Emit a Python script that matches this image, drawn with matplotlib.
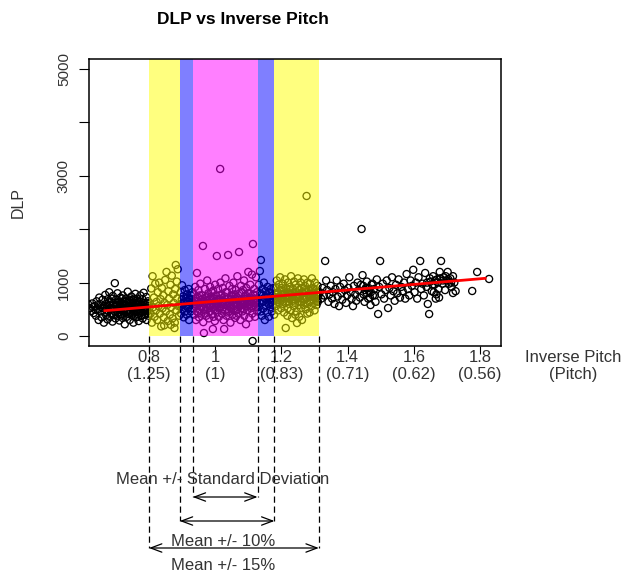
import matplotlib.pyplot as plt
from matplotlib import transforms
from matplotlib.lines import Line2D

plt.rcParams['font.family'] = ['Liberation Sans', 'DejaVu Sans']

# scanned points, grouped by the pitch band they fall in
low_pts = [(0.622,520),(0.626,470),(0.629,610),(0.633,430),(0.636,560),(0.640,380),(0.642,650),(0.645,500),(0.648,300),(0.650,720),
    (0.653,460),(0.655,590),(0.657,350),(0.660,680),(0.662,520),(0.664,250),(0.666,440),(0.668,770),(0.670,600),(0.671,390),
    (0.673,540),(0.675,310),(0.676,690),(0.678,470),(0.680,820),(0.681,580),(0.683,360),(0.685,640),(0.686,430),(0.688,520),
    (0.690,270),(0.691,750),(0.693,610),(0.694,400),(0.696,540),(0.697,990),(0.699,330),(0.700,680),(0.702,470),(0.703,590),
    (0.705,800),(0.706,380),(0.708,520),(0.709,640),(0.711,290),(0.712,450),(0.714,720),(0.715,560),(0.717,410),(0.718,610),
    (0.720,340),(0.721,760),(0.723,500),(0.724,650),(0.726,430),(0.727,220),(0.729,580),(0.730,700),(0.732,470),(0.733,360),
    (0.735,620),(0.736,830),(0.738,540),(0.739,410),(0.741,680),(0.742,300),(0.744,570),(0.745,460),(0.747,740),(0.748,390),
    (0.750,600),(0.751,510),(0.753,250),(0.754,670),(0.756,440),(0.757,560),(0.759,790),(0.760,350),(0.762,620),(0.763,480),
    (0.765,700),(0.766,410),(0.768,540),(0.769,280),(0.771,650),(0.772,500),(0.774,760),(0.775,380),(0.777,590),(0.778,450),
    (0.780,690),(0.781,330),(0.783,560),(0.784,810),(0.786,470),(0.787,620),(0.789,400),(0.790,540),(0.792,730),(0.793,300),
    (0.795,610),(0.796,460),(0.798,560),(0.799,380),(0.616,600),
    (0.664,560),(0.672,480),(0.679,630),(0.684,510),(0.692,570),(0.698,450),(0.704,620),(0.710,530),(0.716,480),(0.722,590),
    (0.728,510),(0.734,450),(0.740,560),(0.746,620),(0.752,420),(0.758,520),(0.764,580),(0.770,470),(0.776,530),(0.782,610),
    (0.788,500),(0.794,470),(0.687,700),(0.701,560),(0.713,600),(0.725,520),(0.737,480),(0.749,540),(0.761,600),(0.773,440),
    (0.785,530),(0.797,650),(0.658,530),(0.647,580),(0.639,490),(0.631,540),(0.719,700),(0.731,640),(0.743,430),(0.755,700),
    (0.767,360),(0.779,560),(0.791,490),(0.706,430),(0.718,380),(0.730,560),(0.742,660),(0.754,480),(0.766,640),(0.778,380)]

yellow_left_pts = [(0.802,620),(0.805,420),(0.807,890),(0.809,250),(0.811,1120),(0.813,540),(0.815,720),(0.817,360),(0.819,980),(0.821,480),
    (0.823,640),(0.825,300),(0.827,820),(0.829,560),(0.831,1000),(0.833,420),(0.835,690),(0.837,180),(0.839,900),(0.841,520),
    (0.843,760),(0.845,350),(0.847,620),(0.849,1050),(0.851,460),(0.853,1200),(0.855,580),(0.857,280),(0.859,840),(0.861,700),
    (0.863,400),(0.865,960),(0.867,540),(0.869,1130),(0.871,330),(0.873,780),(0.875,620),(0.877,150),(0.879,880),(0.881,1330),
    (0.883,480),(0.885,700),(0.887,1250),(0.889,560),(0.891,380),(0.884,1020),(0.878,250),(0.866,210),(0.846,200)]

blue_left_pts = [(0.894,560),(0.896,820),(0.897,420),(0.899,680),(0.900,950),(0.902,500),(0.903,740),(0.905,350),(0.906,620),(0.908,860),
    (0.909,460),(0.911,700),(0.912,560),(0.914,400),(0.915,780),(0.917,640),(0.918,520),(0.920,880),(0.921,300),(0.923,700),
    (0.924,580),(0.926,460),(0.927,760),(0.929,620),(0.930,520),(0.931,820),(0.898,600),(0.910,640),(0.916,720),(0.925,680)]

pink_pts = [(0.934,520),(0.936,780),(0.937,400),(0.939,660),(0.940,920),(0.942,300),(0.943,580),(0.945,1180),(0.946,450),(0.948,720),
    (0.949,860),(0.951,350),(0.952,620),(0.954,500),(0.955,980),(0.957,680),(0.958,420),(0.960,760),(0.961,560),(0.963,1686),
    (0.964,260),(0.966,56),(0.967,640),(0.969,880),(0.970,480),(0.972,720),(0.973,380),(0.975,600),(0.976,1040),(0.978,520),
    (0.979,800),(0.981,330),(0.982,680),(0.984,460),(0.985,920),(0.987,580),(0.988,740),(0.990,410),(0.991,620),(0.993,131),
    (0.994,850),(0.996,500),(0.997,700),(0.999,280),(1.000,960),(1.002,560),(1.003,760),(1.005,1498),(1.006,440),(1.008,640),
    (1.009,880),(1.011,360),(1.012,700),(1.014,520),(1.015,3128),(1.016,1000),(1.017,600),(1.019,780),(1.020,420),(1.022,660),
    (1.023,900),(1.025,300),(1.026,580),(1.027,131),(1.028,740),(1.030,480),(1.031,1080),(1.033,640),(1.034,380),(1.036,820),
    (1.037,560),(1.039,1517),(1.040,700),(1.042,460),(1.043,940),(1.045,600),(1.046,250),(1.048,760),(1.049,520),(1.051,880),
    (1.052,400),(1.054,660),(1.055,1000),(1.057,560),(1.058,780),(1.060,340),(1.061,620),(1.063,860),(1.064,480),(1.066,720),
    (1.067,1120),(1.069,580),(1.070,420),(1.072,1573),(1.073,800),(1.075,640),(1.076,300),(1.078,940),(1.079,520),(1.081,700),
    (1.082,460),(1.084,860),(1.085,600),(1.087,1040),(1.088,380),(1.090,740),(1.091,560),(1.093,220),(1.094,900),(1.096,660),
    (1.097,480),(1.099,800),(1.100,1200),(1.102,580),(1.103,340),(1.105,720),(1.106,960),(1.108,520),(1.109,640),(1.111,1150),
    (1.112,420),(1.113,-94),(1.114,1723),(1.115,780),(1.117,580),(1.118,880),(1.120,360),(1.121,700),(1.123,1100),(1.124,540),
    (1.126,820),(1.127,460),
    (0.938,600),(0.947,640),(0.956,560),(0.962,700),(0.968,600),(0.974,660),(0.980,580),(0.986,700),(0.992,540),(0.998,640),
    (1.004,600),(1.010,680),(1.018,560),(1.024,640),(1.029,600),(1.035,700),(1.041,620),(1.047,680),(1.053,580),(1.059,700),
    (1.065,620),(1.071,680),(1.077,600),(1.083,660),(1.089,620),(1.095,700),(1.101,640),(1.107,600),(1.116,680),(1.122,620),
    (0.944,700),(0.953,760),(0.965,500),(0.977,740),(0.989,820),(1.001,480),(1.013,760),(1.021,500),(1.032,820),(1.044,540),
    (1.050,740),(1.056,480),(1.062,760),(1.068,500),(1.074,560),(1.080,820),(1.086,500),(1.092,760),(1.098,560),(1.104,800),
    (1.110,560),(1.119,760),(1.125,640),(0.950,430),(0.971,420),(0.983,560),(0.995,360),(1.007,540),(1.038,440),(1.064,380)]

blue_right_pts = [(1.129,700),(1.131,540),(1.132,960),(1.134,620),(1.135,1217),(1.137,460),(1.138,1423),(1.140,780),(1.141,380),(1.143,880),
    (1.144,640),(1.146,520),(1.147,1000),(1.149,720),(1.150,300),(1.152,840),(1.153,580),(1.155,680),(1.156,440),(1.158,920),
    (1.159,760),(1.161,600),(1.162,360),(1.164,820),(1.165,700),(1.167,540),(1.168,880),(1.170,640),(1.171,460),(1.173,760),
    (1.174,580),(1.176,900),(1.177,680),(1.178,400),(1.136,800),(1.145,660),(1.157,720),(1.166,620)]

yellow_right_pts = [(1.181,720),(1.183,900),(1.184,560),(1.186,1040),(1.187,680),(1.189,820),(1.190,480),(1.192,960),(1.193,740),(1.195,620),
    (1.196,1100),(1.198,860),(1.199,520),(1.201,780),(1.202,680),(1.204,980),(1.205,600),(1.207,840),(1.208,440),(1.210,720),
    (1.211,1060),(1.213,150),(1.214,900),(1.216,640),(1.217,760),(1.219,520),(1.220,1000),(1.222,820),(1.223,600),(1.225,700),
    (1.226,920),(1.228,480),(1.229,1120),(1.231,780),(1.232,337),(1.234,660),(1.235,880),(1.237,560),(1.238,1020),(1.240,740),
    (1.241,620),(1.243,960),(1.244,820),(1.246,460),(1.247,243),(1.249,700),(1.250,1080),(1.252,580),(1.253,860),(1.255,760),
    (1.256,640),(1.258,1000),(1.259,520),(1.261,900),(1.262,300),(1.264,700),(1.265,800),(1.267,580),(1.268,1060),(1.270,680),
    (1.271,940),(1.273,500),(1.274,820),(1.276,2622),(1.277,720),(1.279,1000),(1.280,600),(1.282,860),(1.283,760),(1.285,440),
    (1.286,980),(1.288,660),(1.289,840),(1.291,560),(1.292,1080),(1.294,740),(1.295,900),(1.297,620),(1.298,800),(1.300,480),
    (1.301,1000),(1.303,700),(1.304,860),(1.306,580),(1.307,760),(1.309,940),(1.310,640),(1.312,820),
    (1.185,780),(1.191,720),(1.197,700),(1.203,760),(1.209,800),(1.215,740),(1.221,700),(1.227,780),(1.233,740),(1.239,800),
    (1.245,720),(1.251,780),(1.257,740),(1.263,820),(1.269,760),(1.275,700),(1.281,780),(1.287,740),(1.293,800),(1.299,720),
    (1.305,780),(1.311,740),(1.188,640),(1.200,900),(1.212,620),(1.224,860),(1.236,700),(1.248,900),(1.260,640),(1.272,860),
    (1.284,640),(1.296,880),(1.308,660),(1.218,380),(1.242,400),(1.254,360),(1.278,420)]

high_pts = [(1.316,820),(1.320,700),(1.324,900),(1.328,760),(1.332,1405),(1.335,1040),(1.338,860),(1.342,640),(1.345,780),(1.349,940),
    (1.353,700),(1.356,820),(1.360,600),(1.363,880),(1.367,1040),(1.370,740),(1.374,560),(1.377,920),(1.381,800),(1.384,680),
    (1.388,980),(1.391,860),(1.395,620),(1.398,760),(1.402,900),(1.405,1100),(1.409,820),(1.412,700),(1.416,560),(1.419,940),
    (1.423,780),(1.426,660),(1.430,1000),(1.433,860),(1.437,720),(1.440,960),(1.442,2004),(1.445,1140),(1.448,780),(1.451,640),
    (1.455,900),(1.458,1020),(1.462,700),(1.465,840),(1.469,580),(1.472,960),(1.476,760),(1.480,880),(1.484,640),(1.488,1060),
    (1.492,412),(1.495,920),(1.498,1405),(1.502,780),(1.506,980),(1.510,700),(1.514,860),(1.518,1040),(1.522,524),(1.526,900),
    (1.530,760),(1.534,1100),(1.538,840),(1.542,660),(1.546,960),(1.550,800),(1.554,1060),(1.558,720),(1.562,920),(1.566,840),
    (1.570,1000),(1.574,700),(1.578,1160),(1.582,880),(1.586,760),(1.590,1040),(1.594,940),(1.598,1240),(1.602,820),(1.606,1000),
    (1.610,700),(1.614,1100),(1.619,1405),(1.622,880),(1.626,980),(1.630,760),(1.634,1180),(1.638,920),(1.642,600),(1.646,412),
    (1.650,1020),(1.654,840),(1.658,1120),(1.662,960),(1.666,700),(1.670,1060),(1.674,880),(1.678,1200),(1.682,1405),(1.686,980),
    (1.690,1100),(1.694,860),(1.698,1040),(1.702,1200),(1.706,980),(1.710,1080),(1.714,920),(1.718,1120),(1.722,1000),(1.726,840),
    (1.776,843),(1.791,1199),(1.827,1068),
    (1.452,860),(1.458,800),(1.463,900),(1.470,820),(1.475,980),(1.482,760),(1.447,940),(1.467,720),
    (1.640,1000),(1.648,1080),(1.656,960),(1.664,1040),(1.672,1000),(1.680,1080),(1.688,1040),(1.696,1120),(1.704,1060),(1.712,1000),
    (1.660,820),(1.668,780),(1.676,720),(1.718,805)]

fit_x = [0.667, 1.815]
fit_y = [474, 1080]

band_edges = [0.800, 0.893, 0.932, 1.128, 1.179, 1.313]
band_colors = ['yellow', 'blue', 'magenta', 'blue', 'yellow']

xtick_pos = [0.8, 1.0, 1.2, 1.4, 1.6, 1.8]
xtick_labels = ['0.8\n(1.25)', '1\n(1)', '1.2\n(0.83)', '1.4\n(0.71)', '1.6\n(0.62)', '1.8\n(0.56)']
ytick_pos = [0, 1000, 2000, 3000, 4000, 5000]
ytick_labels = ['0', '1000', '', '3000', '', '5000']

W, H = 629, 576
fig = plt.figure(figsize=(W / 100, H / 100), dpi=100)
ax = fig.add_axes([89 / W, 1 - 346 / H, (501 - 89) / W, (346 - 59) / H])

all_pts = low_pts + yellow_left_pts + blue_left_pts + pink_pts + blue_right_pts + yellow_right_pts + high_pts
xs = [p[0] for p in all_pts]
ys = [p[1] for p in all_pts]
ax.scatter(xs, ys, s=26, facecolors='none', edgecolors='black', linewidths=0.95, zorder=1)

for i in range(len(band_colors)):
    ax.fill_between([band_edges[i], band_edges[i + 1]], 0, 6000, color=band_colors[i], alpha=0.5, lw=0, zorder=2)

ax.plot(fit_x, fit_y, color='red', lw=2, zorder=3)

ax.set_xlim(0.619, 1.863)
ax.set_ylim(-187, 5187)
ax.set_xticks(xtick_pos)
ax.set_xticklabels(xtick_labels, fontsize=12, color='#333333', linespacing=1.15)
ax.set_yticks(ytick_pos)
ax.set_yticklabels(ytick_labels, fontsize=11, rotation=90, va='center', color='#333333')
ax.tick_params(axis='x', length=6, width=0.8, pad=-3)
ax.tick_params(axis='y', length=7, width=0.8, pad=6)
for s in ax.spines.values():
    s.set_linewidth(1.1)

fig.text(243 / W, 1 - 19 / H, 'DLP vs Inverse Pitch', ha='center', va='center', fontsize=12.5, fontweight='bold')
fig.text(18 / W, 1 - 203 / H, 'DLP', rotation=90, ha='center', va='center', fontsize=11.5, color='#333333')
fig.text(573 / W, 1 - 350 / H, 'Inverse Pitch\n(Pitch)', ha='center', va='top', fontsize=12, color='#333333', linespacing=1.15)

# dashed guides from the bands down to the arrows
trans = transforms.blended_transform_factory(ax.transData, fig.transFigure)
y_zero = fig.transFigure.inverted().transform(ax.transData.transform((1.0, 0)))[1]
guide_ends = {0: 548, 5: 548, 1: 521, 4: 521, 2: 497, 3: 497}
for i, x in enumerate(band_edges):
    fig.add_artist(Line2D([x, x], [y_zero, 1 - guide_ends[i] / H], transform=trans,
                          color='black', lw=0.9, ls=(0, (5, 3)), clip_on=False))

arrows = [(band_edges[2], band_edges[3], 497), (band_edges[1], band_edges[4], 521), (band_edges[0], band_edges[5], 548)]
for x0, x1, yp in arrows:
    ax.annotate('', xy=(x1, 1 - yp / H), xycoords=trans, xytext=(x0, 1 - yp / H), textcoords=trans,
                arrowprops=dict(arrowstyle='<->,head_length=0.8,head_width=0.3', lw=0.9, color='black',
                                shrinkA=0, shrinkB=0), annotation_clip=False)

fig.text(223 / W, 1 - 480 / H, 'Mean +/- Standard Deviation', ha='center', va='center', fontsize=12, color='#333333')
fig.text(223 / W, 1 - 541 / H, 'Mean +/- 10%', ha='center', va='center', fontsize=12, color='#333333')
fig.text(223 / W, 1 - 566 / H, 'Mean +/- 15%', ha='center', va='center', fontsize=12, color='#333333')

fig.savefig('out.png', dpi=100)
